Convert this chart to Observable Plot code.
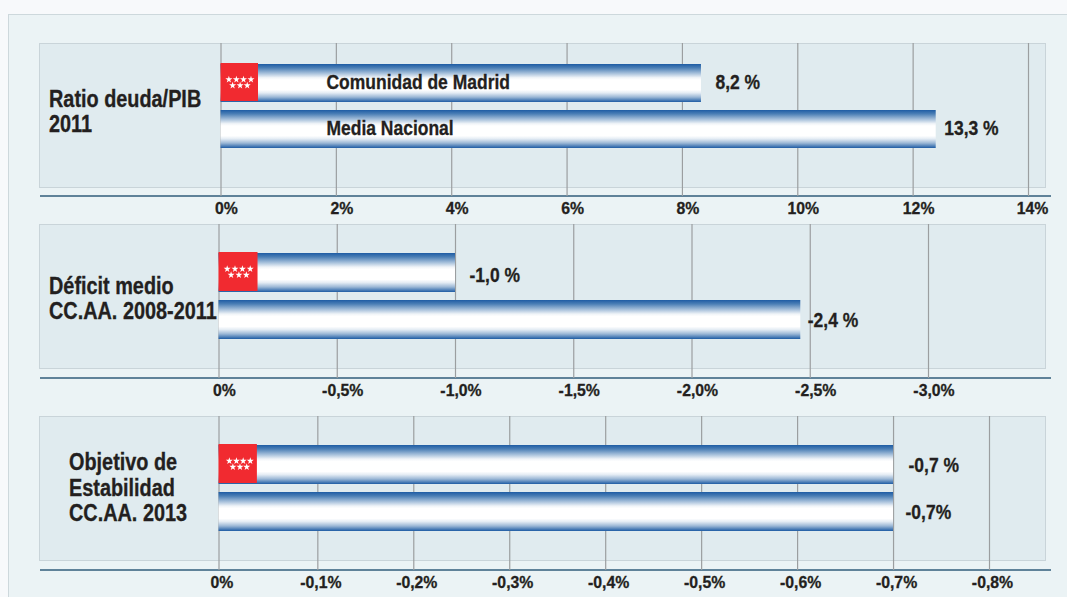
<!DOCTYPE html>
<html><head><meta charset="utf-8">
<script src="https://cdn.jsdelivr.net/npm/d3@7"></script>
<script src="https://cdn.jsdelivr.net/npm/@observablehq/plot@0.6"></script>
<style>
html,body{margin:0;padding:0;background:#f7f9fb;overflow:hidden}
#page{position:relative;width:1067px;height:597px;overflow:hidden}
.outer{position:absolute;left:8px;top:14px;width:1070px;height:600px;background:#ebf3f5;border:1px solid #cdd8dc;box-sizing:border-box}
.panel{position:absolute;left:39px;width:1007px;height:145px;background:#e0ebef;border:1px solid #c9d4d9;box-sizing:border-box}
.axisline{position:absolute;left:40px;width:1011px;height:1.5px;background:#5f8299}
.chart{position:absolute;left:0}
svg{background:transparent!important;overflow:visible}
</style></head><body><div id="page"><div class="outer"></div></div>
<script>
const FONT = "'Liberation Sans',Arial,sans-serif";
const rows = ["Comunidad de Madrid", "Media Nacional"];

const deudaBars = [8.33, 12.4];
const deudaLabels = ["8,2 %", "13,3 %"];
const deudaTicks = [0, 2, 4, 6, 8, 10, 12, 14];
const deudaTickLabels = ["0%", "2%", "4%", "6%", "8%", "10%", "12%", "14%"];

const deficitBars = [-1.0, -2.46];
const deficitLabels = ["-1,0 %", "-2,4 %"];
const deficitTicks = [0, -0.5, -1, -1.5, -2, -2.5, -3];
const deficitTickLabels = ["0%", "-0,5%", "-1,0%", "-1,5%", "-2,0%", "-2,5%", "-3,0%"];

const objetivoBars = [-0.7, -0.7];
const objetivoLabels = ["-0,7 %", "-0,7%"];
const objetivoTicks = [0.003, -0.1, -0.2, -0.3, -0.4, -0.5, -0.6, -0.7, -0.8];
const objetivoTickLabels = ["0%", "-0,1%", "-0,2%", "-0,3%", "-0,4%", "-0,5%", "-0,6%", "-0,7%", "-0,8%"];

const starsTop = [0.21, 0.41, 0.6, 0.8];
const starsBottom = [0.31, 0.51, 0.7];

const panels = [
  {top: 43, bars: deudaBars, labels: deudaLabels, gaps: [14, 8], dys: [-1, -1], ticks: deudaTicks, tickLabels: deudaTickLabels, tickDx: 5.5,
   title: "Ratio deuda/PIB\n2011", titleDx: -172, titleY: 68, axisH: 153, domain: [0, 14], range: [220.5, 1028], flag: 0.65, names: true, barTop: 21, barSpan: 84.5, lastDx: 4},
  {top: 224, bars: deficitBars, labels: deficitLabels, gaps: [14, 7], dys: [2, 0], ticks: deficitTicks, tickLabels: deficitTickLabels, tickDx: 5.5,
   title: "Déficit medio\nCC.AA. 2008-2011", titleDx: -170, titleY: 74, axisH: 154, domain: [0, -3], range: [218.5, 928], flag: -0.165, barTop: 29, barSpan: 86},
  {top: 416, bars: objetivoBars, labels: objetivoLabels, gaps: [15, 12], dys: [0, 0], ticks: objetivoTicks, tickLabels: objetivoTickLabels, tickDx: 3,
   title: "Objetivo de\nEstabilidad\nCC.AA. 2013", titleDx: -150, titleY: 71, axisH: 154, domain: [0.003, -0.8], range: [218.5, 989], flag: -0.037, barTop: 29, barSpan: 86}
];

const page = document.getElementById("page");
const labelStyle = {fontFamily: FONT, fontWeight: 700, fontSize: 19.5, fill: "#231f20"};
const titleStyle = {fontFamily: FONT, fontWeight: 700, fontSize: 21.5, fill: "#231f20"};
const condense = {"19.5": [0.897, 1.06], "21.5": [0.924, 1.08], "17": [0.93, 1.02]};

panels.forEach((p, idx) => {
  const box = document.createElement("div");
  box.className = "panel";
  box.style.top = p.top + "px";
  page.appendChild(box);
  const line = document.createElement("div");
  line.className = "axisline";
  line.style.top = (p.top + p.axisH - 1) + "px";
  page.appendChild(line);

  const data = rows.map((r, i) => ({row: r, value: p.bars[i], label: p.labels[i], gap: p.gaps[i], dy: p.dys[i]}));
  const mainTicks = p.lastDx === undefined ? p.ticks : p.ticks.slice(0, -1);
  const fmt = d => p.tickLabels[p.ticks.indexOf(d)];
  const axisOpts = {anchor: "bottom", tickSize: 0, tickPadding: 5.5, tickFormat: fmt, label: null,
    fontFamily: FONT, fontWeight: 700, fontSize: 17, fill: "#231f20"};

  const marks = [
    () => {
      const svgNS = "http://www.w3.org/2000/svg";
      const defs = document.createElementNS(svgNS, "defs");
      const g = document.createElementNS(svgNS, "linearGradient");
      g.setAttribute("id", "barGrad" + idx);
      g.setAttribute("x1", 0); g.setAttribute("x2", 0); g.setAttribute("y1", 0); g.setAttribute("y2", 1);
      [[0,"#1e5ca4"],[0.1,"#4a7eb5"],[0.25,"#a9c2dc"],[0.36,"#f0f4f8"],[0.42,"#fff"],[0.68,"#fff"],[0.76,"#e4ecf4"],[0.87,"#9cb8d6"],[1,"#1e5ca4"]]
        .forEach(([o,c]) => {
          const s = document.createElementNS(svgNS, "stop");
          s.setAttribute("offset", o); s.setAttribute("stop-color", c);
          g.appendChild(s);
        });
      defs.appendChild(g);
      return defs;
    },
    Plot.ruleX(p.ticks, {stroke: "#9b9ea0", strokeWidth: 1.2}),
    Plot.barX(data, {y: "row", x1: () => p.domain[0], x2: "value", fill: `url(#barGrad${idx})`}),
    Plot.barX([rows[0]], {y: d => d, x1: () => p.domain[0], x2: () => p.flag, fill: "#f12a30", dy: -1}),
    Plot.dot(starsTop, {x: d => d * p.flag, y: () => rows[0], symbol: "star", r: 2.2, fill: "#fff", dy: -4}),
    Plot.dot(starsBottom, {x: d => d * p.flag, y: () => rows[0], symbol: "star", r: 2.2, fill: "#fff", dy: 2}),
    Plot.axisX({...axisOpts, ticks: mainTicks, dx: p.tickDx}),
    ...(p.lastDx === undefined ? [] : [Plot.axisX({...axisOpts, ticks: p.ticks.slice(-1), dx: p.lastDx})]),
    ...data.map(d => Plot.text([d], {x: "value", y: "row", text: "label", textAnchor: "start", dx: d.gap, dy: d.dy, ...labelStyle})),
    Plot.text([p.title], {x: () => p.domain[0], frameAnchor: "top", dy: p.titleY, dx: p.titleDx, textAnchor: "start", lineAnchor: "middle", lineHeight: 1.08, text: d => d, ...titleStyle}),
    ...(p.names ? rows.map(r => Plot.text([r], {x: () => 0, y: () => r, text: d => d, dx: 105.5, dy: -1, textAnchor: "start", ...labelStyle})) : [])
  ];

  const chart = Plot.plot({
    width: 1067,
    height: p.axisH + 28,
    marginTop: 0, marginBottom: 28, marginLeft: p.range[0], marginRight: 1067 - p.range[1],
    style: {background: "transparent", overflow: "visible"},
    x: {domain: p.domain, range: p.range, axis: null},
    y: {domain: rows, range: [p.barTop, p.barTop + p.barSpan], paddingInner: 0.18, paddingOuter: 0, axis: null},
    marks
  });
  chart.querySelectorAll("text").forEach(t => {
    const host = t.closest("[font-size]");
    const k = host && condense[host.getAttribute("font-size")];
    if (k) t.setAttribute("transform", (t.getAttribute("transform") || "") + ` scale(${k[0]},${k[1]})`);
    t.setAttribute("stroke", "#231f20");
    t.setAttribute("stroke-width", "0.3");
  });
  const wrap = document.createElement("div");
  wrap.className = "chart";
  wrap.style.top = p.top + "px";
  wrap.appendChild(chart);
  page.appendChild(wrap);
});
</script></body></html>
